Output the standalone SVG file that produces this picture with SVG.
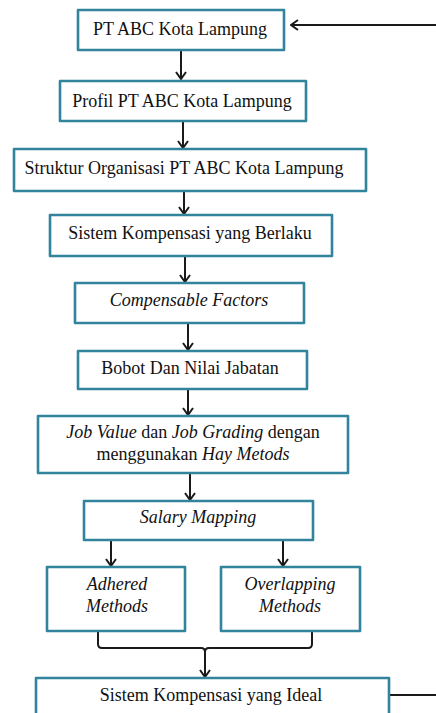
<svg xmlns="http://www.w3.org/2000/svg" width="436" height="713" viewBox="0 0 436 713">
<defs>
<marker id="ah" viewBox="0 0 10 12" refX="9" refY="6" markerWidth="10" markerHeight="12" markerUnits="userSpaceOnUse" orient="auto">
<path d="M2,1 L9,6 L2,11" fill="none" stroke="#1a1a1a" stroke-width="2"/>
</marker>
</defs>
<rect width="436" height="713" fill="#fff"/>
<g id="connectors" fill="none" stroke="#1a1a1a" stroke-width="2">
<line x1="436" y1="25" x2="291" y2="25" marker-end="url(#ah)"/>
<line x1="181" y1="51" x2="181" y2="79" marker-end="url(#ah)"/>
<line x1="183" y1="122" x2="183" y2="148" marker-end="url(#ah)"/>
<line x1="184" y1="192" x2="184" y2="214" marker-end="url(#ah)"/>
<line x1="185" y1="257" x2="185" y2="282" marker-end="url(#ah)"/>
<line x1="188" y1="324" x2="188" y2="350" marker-end="url(#ah)"/>
<line x1="188" y1="390" x2="188" y2="415" marker-end="url(#ah)"/>
<line x1="190" y1="474" x2="190" y2="500" marker-end="url(#ah)"/>
<line x1="111" y1="541" x2="111" y2="566" marker-end="url(#ah)"/>
<line x1="283" y1="541" x2="283" y2="566" marker-end="url(#ah)"/>
<path d="M98,632 V644 Q98,648 102,648 H201 Q205,648 205,652"/>
<path d="M312,632 V644 Q312,648 308,648 H209 Q205,648 205,652"/>
<line x1="205" y1="650" x2="205" y2="677" marker-end="url(#ah)"/>
<line x1="389" y1="695" x2="436" y2="695"/>
</g>
<g id="nodes" fill="#fff" stroke="#31849B" stroke-width="2.6" stroke-linejoin="round">
<g id="n1"><rect x="78" y="10" width="206" height="40"/><text font-family="Liberation Serif" font-size="18" fill="#111" stroke="none" text-anchor="middle" x="180" y="35">PT ABC Kota Lampung</text></g>
<g id="n2"><rect x="60" y="81" width="246" height="40"/><text font-family="Liberation Serif" font-size="18" fill="#111" stroke="none" text-anchor="middle" x="182" y="107">Profil PT ABC Kota Lampung</text></g>
<g id="n3"><rect x="14" y="149" width="352" height="42"/><text font-family="Liberation Serif" font-size="18" fill="#111" stroke="none" text-anchor="middle" x="184" y="174">Struktur Organisasi PT ABC Kota Lampung</text></g>
<g id="n4"><rect x="50" y="215" width="282" height="41"/><text font-family="Liberation Serif" font-size="18" fill="#111" stroke="none" text-anchor="middle" x="190" y="239">Sistem Kompensasi yang Berlaku</text></g>
<g id="n5"><rect x="75" y="283" width="229" height="40"/><text font-family="Liberation Serif" font-size="18" fill="#111" stroke="none" text-anchor="middle" font-style="italic" x="189" y="306">Compensable Factors</text></g>
<g id="n6"><rect x="78" y="351" width="229" height="38"/><text font-family="Liberation Serif" font-size="18" fill="#111" stroke="none" text-anchor="middle" x="190" y="374">Bobot Dan Nilai Jabatan</text></g>
<g id="n7"><rect x="38" y="416" width="310" height="57"/>
<text font-family="Liberation Serif" font-size="18" fill="#111" stroke="none" text-anchor="middle" x="193" y="438"><tspan font-style="italic">Job Value</tspan> dan <tspan font-style="italic">Job Grading</tspan> dengan</text>
<text font-family="Liberation Serif" font-size="18" fill="#111" stroke="none" text-anchor="middle" x="193" y="460">menggunakan <tspan font-style="italic">Hay Metods</tspan></text></g>
<g id="n8"><rect x="84" y="501" width="229" height="39"/><text font-family="Liberation Serif" font-size="18" fill="#111" stroke="none" text-anchor="middle" font-style="italic" x="198" y="523">Salary Mapping</text></g>
<g id="n9"><rect x="47" y="567" width="138" height="64"/><text font-family="Liberation Serif" font-size="18" fill="#111" stroke="none" text-anchor="middle" font-style="italic" x="117" y="590">Adhered</text><text font-family="Liberation Serif" font-size="18" fill="#111" stroke="none" text-anchor="middle" font-style="italic" x="117" y="612">Methods</text></g>
<g id="n10"><rect x="221" y="567" width="139" height="64"/><text font-family="Liberation Serif" font-size="18" fill="#111" stroke="none" text-anchor="middle" font-style="italic" x="290" y="590">Overlapping</text><text font-family="Liberation Serif" font-size="18" fill="#111" stroke="none" text-anchor="middle" font-style="italic" x="290" y="612">Methods</text></g>
<g id="n11"><rect x="36" y="678" width="353" height="50"/><text font-family="Liberation Serif" font-size="18" fill="#111" stroke="none" text-anchor="middle" x="211" y="701">Sistem Kompensasi yang Ideal</text></g>
</g>
</svg>
